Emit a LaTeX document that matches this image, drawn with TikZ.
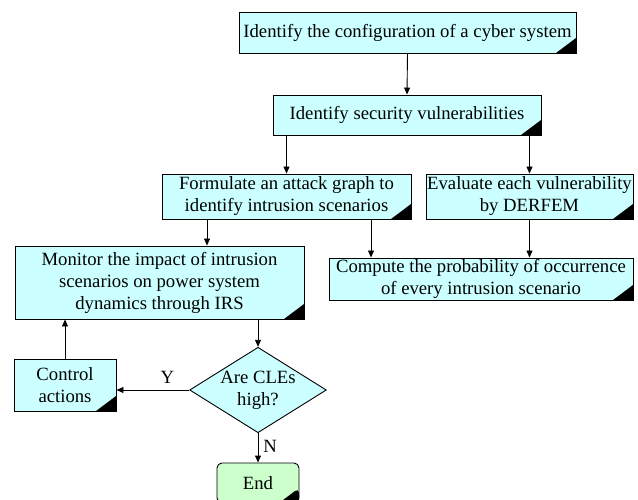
\documentclass[tikz,border=0pt]{standalone}
\usepackage{fontspec}
\setmainfont{Liberation Serif}
\usetikzlibrary{arrows.meta,shapes.geometric}
\definecolor{boxcyan}{RGB}{204,255,255}
\definecolor{boxgreen}{RGB}{204,255,204}
\tikzset{
  corner/.style={path picture={\fill[black] (path picture bounding box.south east) -- ++(-20pt,0pt) -- ++(20pt,15pt) -- cycle;}},
  procbox/.style={draw, line width=0.9pt, fill=boxcyan, align=center, inner sep=0pt, corner, font=\fontsize{18.7}{22}\selectfont},
  decbox/.style={draw, line width=0.9pt, fill=boxcyan, diamond, aspect=1.6, align=center, inner sep=0pt, font=\fontsize{18.7}{22}\selectfont},
  endbox/.style={draw, line width=0.9pt, fill=boxgreen, rounded corners=5pt, align=center, inner sep=0pt, corner, font=\fontsize{18.7}{22}\selectfont},
  arr/.style={-{Triangle[length=7pt,width=6pt]}, line width=0.9pt},
  lbl/.style={font=\fontsize{18.7}{22}\selectfont, inner sep=0pt}
}
\begin{document}
\begin{tikzpicture}[x=1pt,y=-1pt]
\useasboundingbox (0,0) rectangle (638,500);
\node[procbox, minimum width=337pt, minimum height=41pt] (b1) at (407.5,32.5) {Identify the configuration of a cyber system};
\node[procbox, minimum width=268pt, minimum height=40pt] (b2) at (407,115) {Identify security vulnerabilities};
\node[procbox, minimum width=249pt, minimum height=45pt] (b3) at (286.5,196.5) {Formulate an attack graph to\\identify intrusion scenarios};
\node[procbox, minimum width=207pt, minimum height=45pt] (b4) at (529.5,196.5) {Evaluate each vulnerability\\by DERFEM};
\node[procbox, minimum width=304pt, minimum height=42pt] (b5) at (481,279) {Compute the probability of occurrence\\of every intrusion scenario};
\node[procbox, minimum width=289pt, minimum height=73pt] (b6) at (159.5,282.5) {Monitor the impact of intrusion\\scenarios on power system\\dynamics through IRS};
\node[procbox, minimum width=102pt, minimum height=52pt] (ctrl) at (65,385) {Control\\actions};
\node[decbox, minimum width=130pt, minimum height=82pt] (dia) at (258,390) {Are CLEs\\high?};
\node[endbox, minimum width=82pt, minimum height=40pt] (end) at (258,483) {End};

\draw[arr] (b1.south) -- (b2.north);
\draw[arr] (b3.north |- b2.south) -- (b3.north);
\draw[arr] (b4.north |- b2.south) -- (b4.north);
\draw[arr] ([xshift=-79.5pt]b3.south) -- ([xshift=-79.5pt]b3.south |- b6.north);
\draw[arr] ([xshift=84.5pt]b3.south) -- ([xshift=84.5pt]b3.south |- b5.north);
\draw[arr] (b4.south) -- (b4.south |- b5.north);
\draw[arr] (dia.north |- b6.south) -- (dia.north);
\draw[arr] (dia.west) -- (dia.west -| ctrl.east) node[lbl, pos=0.3, above=6pt] (ylab) {Y};
\draw[arr] (ctrl.north) -- (ctrl.north |- b6.south);
\draw[arr] (dia.south) -- (end.north) node[lbl, pos=0.45, right=5pt] (nlab) {N};
\end{tikzpicture}
\end{document}
